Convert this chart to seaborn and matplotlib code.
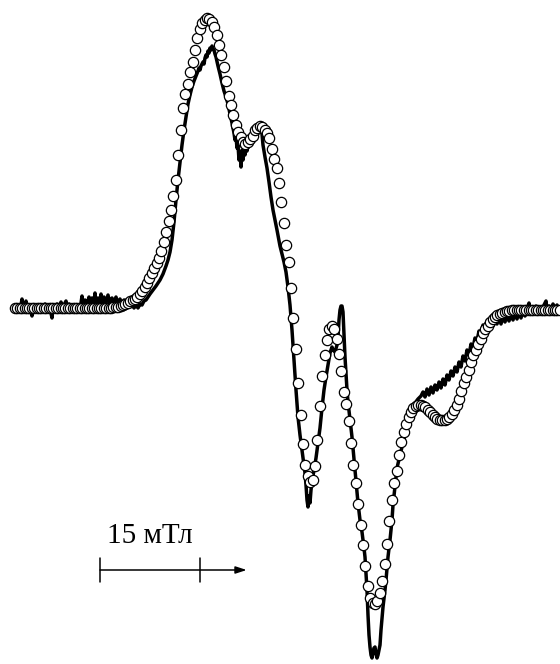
import numpy as np
import pandas as pd
import matplotlib
matplotlib.use("Agg")
import matplotlib.pyplot as plt
import seaborn as sns

# Experimental EPR spectrum: magnetic field (mT, relative) and signal (a.u.)
exp_field = [
    2.25, 2.55, 2.85, 3.15, 3.30, 3.45, 3.75, 3.90, 4.05, 4.35, 4.65, 4.80, 4.95, 5.25, 5.55, 5.85,
    6.15, 6.45, 6.75, 7.05, 7.35, 7.65, 7.80, 7.95, 8.25, 8.55, 8.85, 9.15, 9.30, 9.60, 9.90, 10.05,
    10.35, 10.65, 10.95, 11.25, 11.55, 11.85, 12.15, 12.30, 12.45, 12.75, 13.05, 13.35, 13.50, 13.80,
    14.10, 14.25, 14.40, 14.70, 15.00, 15.15, 15.30, 15.60, 15.90, 16.20, 16.50, 16.80, 17.10, 17.40,
    17.70, 18.00, 18.30, 18.60, 18.90, 19.20, 19.50, 19.80, 20.10, 20.40, 20.70, 21.00, 21.30, 21.60,
    21.90, 22.20, 22.50, 22.95, 23.40, 24.00, 24.45, 24.90, 25.20, 25.50, 25.80, 26.10, 26.40, 26.70,
    27.00, 27.30, 27.60, 27.90, 28.20, 28.50, 28.80, 29.10, 29.40, 29.70, 29.85, 30.00, 30.15, 30.45,
    30.60, 30.75, 30.90, 31.05, 31.20, 31.35, 31.50, 31.65, 31.80, 31.95, 32.10, 32.25, 32.40, 32.70,
    33.00, 33.30, 33.60, 33.90, 34.20, 34.50, 34.80, 35.10, 35.25, 35.40, 35.55, 35.70, 35.85, 36.00,
    36.15, 36.30, 36.45, 36.60, 36.75, 36.90, 37.05, 37.20, 37.50, 37.80, 38.10, 38.40, 38.70, 39.00,
    39.15, 39.30, 39.45, 39.75, 40.05, 40.35, 40.65, 40.95, 41.25, 41.55, 42.00, 42.30, 42.60, 42.90,
    43.20, 43.50, 43.80, 44.10, 44.40, 44.70, 45.00, 45.30, 45.60, 45.75, 45.90, 46.05, 46.20, 46.35,
    46.50, 46.65, 46.80, 47.10, 47.40, 47.70, 48.00, 48.30, 48.60, 48.90, 49.20, 49.50, 49.80, 49.95,
    50.25, 50.55, 50.70, 50.85, 51.00, 51.15, 51.30, 51.45, 51.60, 51.75, 52.05, 52.20, 52.50, 52.80,
    53.25, 53.70, 54.00, 54.30, 54.60, 54.75, 54.90, 55.05, 55.20, 55.35, 55.50, 55.65, 55.80, 55.95,
    56.10, 56.25, 56.40, 56.55, 56.70, 56.85, 57.00, 57.15, 57.30, 57.45, 57.75, 57.90, 58.20, 58.50,
    58.80, 58.95, 59.25, 59.55, 60.00, 60.45, 60.90, 61.35, 61.80, 62.25, 62.70, 63.15, 63.45, 63.75,
    64.05, 64.35, 64.65, 64.95, 65.25, 65.55, 65.85, 66.15, 66.45, 66.75, 67.05, 67.35, 67.65, 67.95,
    68.25, 68.55, 68.85, 69.15, 69.45, 69.75, 70.05, 70.35, 70.65, 70.95, 71.25, 71.55, 71.85, 72.15,
    72.45, 72.75, 73.05, 73.35, 73.65, 73.95, 74.25, 74.55, 74.85, 75.15, 75.45, 75.75, 76.05, 76.35,
    76.65, 76.95, 77.25, 77.55, 77.85, 78.15, 78.45, 78.75, 79.05, 79.35, 79.50, 79.80, 80.10, 80.40,
    80.70, 81.00, 81.30, 81.60, 81.90, 82.05, 82.35, 82.65, 82.95, 83.25, 83.55, 83.85, 84.00,
]
exp_signal = [
    0, 2, -2, 3, 9, -2, 1, 7, -3, 3, -4, -8, 2, -2, 3, -3,
    2, -2, 4, -3, 1, -5, -10, 3, -2, 4, 0, 6, -2, 3, 7, -3,
    4, -2, 1, -4, 3, -2, 5, 12, 2, 8, 3, 11, 4, 10,
    5, 15, 3, 10, 5, 14, 4, 11, 5, 13, 4, 10, 5, 11,
    4, 9, 3, 8, 2, 6, 1, 4, 0, 3, 0, 4, 3, 7,
    8, 11, 14, 18, 22, 28, 34, 42, 48, 56, 68, 86, 108, 128,
    146, 163, 178, 191, 204, 213, 221, 227, 232, 237, 240, 238, 242, 246,
    244, 250, 253, 251, 257, 255, 260, 258, 262, 259, 258, 254, 251, 242,
    234, 225, 217, 211, 204, 194, 185, 175, 168, 171, 160, 163, 148, 156,
    141, 158, 148, 163, 153, 161, 157, 163, 165, 167, 170, 173, 175, 177,
    178, 174, 163, 151, 140, 126, 111, 98, 88, 78, 62, 54, 46, 36,
    21, 3, -22, -52, -82, -109, -127, -142, -157, -165, -177, -192, -199, -188,
    -195, -182, -174, -162, -150, -135, -120, -100, -82, -69, -57, -45, -39, -42,
    -44, -37, -30, -12, -2, 2, 2, -4, -27, -49, -82, -94, -112, -129,
    -162, -195, -212, -224, -240, -249, -265, -282, -307, -327, -339, -347, -350, -344,
    -340, -339, -346, -350, -347, -342, -337, -322, -310, -299, -282, -272, -249, -232,
    -212, -197, -179, -160, -147, -135, -124, -112, -102, -95, -91, -88, -84, -89,
    -81, -87, -79, -85, -77, -82, -74, -80, -71, -77, -67, -72, -63, -68,
    -59, -64, -54, -59, -48, -53, -42, -47, -36, -40, -30, -33, -23, -27,
    -17, -23, -13, -20, -11, -18, -9, -16, -9, -16, -8, -14, -7, -13,
    -6, -12, -5, -11, -4, -10, -3, -8, -1, 5, -4, -1, -6, 2,
    -3, 1, -5, 3, 7, -2, 2, -4, 4, -1, 3, -3, 0,
]

# Simulated spectrum on a uniform field grid
sim_start, sim_step = 2.25, 0.36
sim_signal = [
    0, 0, 0, 0, 0, 0, 0, 0, 0, 0, 0, 0, 0, 0, 0, 0, 0, 0, 0, 0,
    0, 0, 0, 0, 0, 0, 0, 0, 0, 0, 0, 0, 0, 0, 0, 0, 0, 0, 0, 0, 0,
    1, 1, 1, 2, 3, 4, 5, 7, 8, 9, 11, 14, 17, 21, 25, 30, 35, 40, 45, 50,
    57, 66, 76, 87, 98, 112, 128, 153, 178, 200, 214, 224, 236, 246, 258, 270,
    279, 285, 288, 290, 289, 286, 281, 273, 263, 253, 241, 227, 212, 203, 193,
    183, 176, 171, 166, 164, 166, 169, 172, 178, 180, 182, 181, 178, 175, 170,
    159, 149, 140, 125, 106, 85, 63, 46, 20, -10, -41, -75, -107, -136, -157,
    -168, -174, -172, -158, -132, -98, -68, -47, -32, -21, -18, -21, -31, -46,
    -63, -84, -96, -113, -135, -157, -175, -196, -217, -237, -258, -278, -290,
    -295, -296, -293, -285, -273, -256, -236, -213, -192, -175, -163, -147, -134,
    -124, -116, -109, -104, -100, -98, -97, -97, -98, -99, -102, -104, -107, -109,
    -111, -112, -112, -112, -111, -109, -106, -102, -97, -91, -83, -75, -69, -62,
    -54, -47, -42, -36, -31, -25, -21, -18, -14, -11, -9, -7, -6, -5, -4, -3, -3, -2,
    -2, -2, -2, -2, -2, -2, -2, -2, -2, -2, -2, -2, -2, -2, -2, -2, -2, -2, -2, -2,
]
sim_field = sim_start + sim_step * np.arange(len(sim_signal))

# Field scale bar
bar_start, bar_len, bar_arrow_end = 15.0, 15.0, 37.0
bar_label = "15 мТл"

exp_df = pd.DataFrame({"field": exp_field, "signal": exp_signal})
sim_df = pd.DataFrame({"field": sim_field, "signal": sim_signal})

sns.set_theme(style="white")
plt.rcParams["font.family"] = ["Liberation Serif", "DejaVu Serif"]

fig = plt.figure(figsize=(5.6, 6.64), dpi=100)
ax = fig.add_axes([0, 0, 1, 1])

sns.lineplot(data=exp_df, x="field", y="signal", color="black", linewidth=2.5,
             sort=False, estimator=None, ax=ax, zorder=2)
sns.scatterplot(data=sim_df, x="field", y="signal", marker="o", s=55,
                color="white", edgecolor="black", linewidth=0.9, ax=ax, zorder=3)

# scale bar with arrow
bar_y = -262
ax.annotate("", xy=(bar_arrow_end, bar_y), xytext=(bar_start, bar_y),
            arrowprops=dict(arrowstyle="-|>,head_length=0.55,head_width=0.18",
                            color="black", lw=1.1, shrinkA=0, shrinkB=0))
for xv in (bar_start, bar_start + bar_len):
    ax.plot([xv, xv], [bar_y + 12, bar_y - 12], color="black", lw=1.1)
ax.text(bar_start + bar_len / 2, -235, bar_label, ha="center", va="baseline",
        fontsize=21, color="black")

ax.set_xlim(0, 84)
ax.set_ylim(-356, 308)
ax.set_axis_off()

fig.savefig("out.png", dpi=100)
